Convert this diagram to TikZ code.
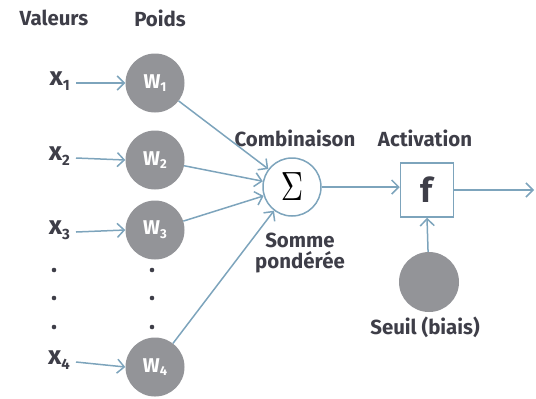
\documentclass[tikz,border=0pt]{standalone}
\usepackage{fontspec}
\setmainfont{Fira Sans}
\usetikzlibrary{arrows.meta}

\definecolor{lineblue}{HTML}{7DA4BC}
\definecolor{wgrey}{HTML}{939498}
\definecolor{ink}{HTML}{3E3E48}

% variable with a lowered index, e.g. x_1
\newcommand\varidx[2]{#1\raisebox{-0.35ex}{\fontsize{15}{15}\selectfont #2}}
\newcommand\wgtidx[1]{W\raisebox{-0.35ex}{\fontsize{13}{13}\selectfont #1}}

\begin{document}
\begin{tikzpicture}[x=1bp,y=-1bp,
  link/.style={draw=lineblue, line width=1.5bp,
    -{Straight Barb[length=7bp,width=14bp,line width=1.5bp]}},
  head/.style={text=ink, font=\bfseries\fontsize{20.5}{22}\selectfont, inner sep=0pt},
  inlbl/.style={text=ink, font=\bfseries\fontsize{26}{26}\selectfont, inner sep=0pt},
  wnode/.style={circle, fill=wgrey, minimum size=59bp, inner sep=0pt,
    text=white, font=\bfseries\fontsize{20}{20}\selectfont},
  pt/.style={circle, fill=ink, minimum size=4.6bp, inner sep=0pt},
]
\useasboundingbox (0,0) rectangle (536,398);

% column headings
\node[head] (hval) at (54,18) {Valeurs};
\node[head] (hpoids) at (160,18) {Poids};

% inputs
\node[inlbl, anchor=east] (x1) at (70,81) {\varidx{x}{1}};
\node[inlbl, anchor=east] (x2) at (70,156) {\varidx{x}{2}};
\node[inlbl, anchor=east] (x3) at (70,230) {\varidx{x}{3}};
\node[inlbl, anchor=east] (x4) at (70,360) {\varidx{x}{4}};

% weights
\node[wnode] (w1) at (155,83) {\wgtidx{1}};
\node[wnode] (w2) at (155,160) {\wgtidx{2}};
\node[wnode] (w3) at (155,230) {\wgtidx{3}};
\node[wnode] (w4) at (155,367) {\wgtidx{4}};

% ellipsis dots
\foreach \yy [count=\i] in {270,298,327} {
  \node[pt] (dx\i) at (54,\yy) {};
  \node[pt] (dw\i) at (152,\yy) {};
}

% summation
\node[circle, draw=lineblue, line width=1.5bp, minimum size=58bp, inner sep=0pt]
  (sum) at (292,187) {\scalebox{3.1}[4.1]{$\Sigma$}};
\node[head] (comb) at (295,138) {Combinaison};
\node[head, align=center] (somme) at (300,253) {Somme\\pondérée};

% activation
\node[draw=lineblue, line width=1.5bp, minimum width=53bp, minimum height=54bp,
  inner sep=0pt, text=ink, font=\bfseries\fontsize{34}{34}\selectfont] (act) at (427,190) {f};
\node[head] (hact) at (425,138) {Activation};
\coordinate (out) at (534,190);

% threshold (bias)
\node[circle, fill=wgrey, minimum size=60bp, inner sep=0pt] (bias) at (429,282) {};
\node[head] (seuil) at (425,327) {Seuil (biais)};

% connectors
\foreach \k in {1,2,3,4} {
  \draw[link] (x\k.east) ++(6,2) -- (w\k.west);
  \draw[link] (w\k) -- (sum);
}
\draw[link] (sum.east) -- (sum.east -| act.west);
\draw[link] (act.east) -- (out);
\draw[link] (bias) -- (act.south);
\end{tikzpicture}
\end{document}
